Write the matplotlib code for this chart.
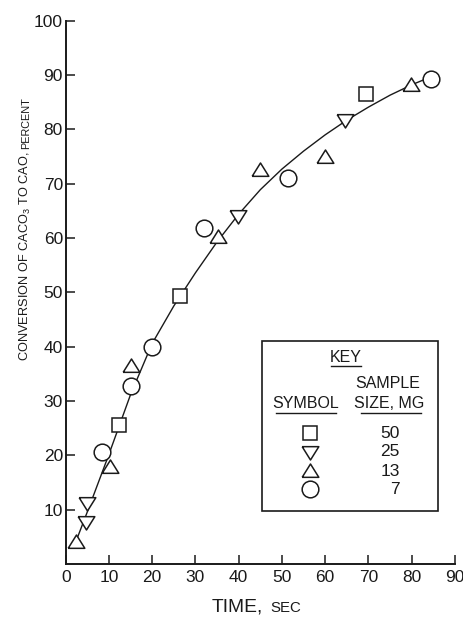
import numpy as np
import matplotlib.pyplot as plt

# data
sq_t = [26.5, 12.4, 69.5]
sq_c = [49.3, 25.5, 86.6]
dn_t = [5.0, 4.8, 39.9, 64.5]
dn_c = [11.2, 7.8, 64.1, 81.7]
up_t = [2.4, 10.2, 15.0, 35.2, 45.0, 59.9, 79.9]
up_c = [4.1, 17.8, 36.5, 60.2, 72.5, 75.0, 88.2]
ci_t = [8.5, 15.0, 19.9, 31.9, 51.4, 84.5]
ci_c = [20.6, 32.8, 40.0, 61.8, 71.0, 89.3]

# fitted curve
fit_t = [2.2, 5, 10, 15, 20, 25, 30, 35, 40, 45, 50, 55, 60, 65, 70, 75, 80, 83]
fit_c = [3.8, 9.6, 20.2, 31.2, 40.6, 47.5, 53.6, 59.3, 64.4, 68.9, 72.7, 76.0,
         79.0, 81.7, 84.1, 86.3, 88.2, 89.2]

key_sizes = ['50', '25', '13', '7']

ink = '#1a1a1a'
fs = 12.5
fam = ['Liberation Sans', 'DejaVu Sans']
plt.rcParams['font.family'] = fam
plt.rcParams['mathtext.fontset'] = 'custom'
plt.rcParams['mathtext.rm'] = 'Liberation Sans'

up_m = [(-1, -0.7), (1, -0.7), (0, 0.9), (-1, -0.7)]
dn_m = [(-1, 0.7), (1, 0.7), (0, -0.9), (-1, 0.7)]

W, H = 464, 618
fig = plt.figure(figsize=(W / 100, H / 100), dpi=100)
ax = fig.add_axes([65.7 / W, 1 - 564 / H, (455 - 65.7) / W, (564 - 20.7) / H])

ax.plot(fit_t, fit_c, color=ink, lw=1.0, zorder=1)

mk = dict(linestyle='none', mfc='white', mec=ink, mew=1.1, zorder=3, clip_on=False)
ax.plot(sq_t, sq_c, marker='s', ms=9.6, **mk)
ax.plot(dn_t, dn_c, marker=dn_m, ms=12, **mk)
ax.plot(up_t, up_c, marker=up_m, ms=12, **mk)
ax.plot(ci_t, ci_c, marker='o', ms=12, **mk)

ax.set_xlim(0, 90)
ax.set_ylim(0, 100)
ax.set_xticks(range(0, 91, 10))
ax.set_yticks(range(10, 101, 10))
ax.spines['top'].set_visible(False)
ax.spines['right'].set_visible(False)
for s in ['left', 'bottom']:
    ax.spines[s].set_linewidth(1.4)
    ax.spines[s].set_color(ink)
ax.tick_params(direction='in', length=6.5, width=1.1, colors=ink, labelsize=fs)
ax.tick_params(axis='x', pad=4)
ax.tick_params(axis='y', pad=2)


def fx(px):
    return px / W


def fy(py):
    return 1 - py / H


def fit_len(t, target, vertical=False):
    # shrink/grow a text so it spans target pixels
    r = fig.canvas.get_renderer()
    bb = t.get_window_extent(r)
    cur = bb.height if vertical else bb.width
    t.set_fontsize(t.get_fontsize() * target / cur)


# axis labels, mixed caps sizes
t1 = fig.text(fx(25), fy(361), r'CONVERSION OF CACO$_3$ TO CAO,', rotation=90,
              ha='center', va='bottom', fontsize=12, color=ink)
t2 = fig.text(fx(26), fy(97), 'PERCENT', rotation=90, ha='center', va='top',
              fontsize=9, color=ink)
t3 = fig.text(fx(263), fy(607), 'TIME,', ha='right', va='center', fontsize=12, color=ink)
t4 = fig.text(fx(270), fy(608), 'SEC', ha='left', va='center', fontsize=9.5, color=ink)
fig.canvas.draw()
fit_len(t1, 208, vertical=True)
fit_len(t2, 52, vertical=True)
fit_len(t3, 51)
fit_len(t4, 31)

# key box
box = plt.Rectangle((fx(262), fy(511)), (438 - 262) / W, (511 - 341) / H,
                    transform=fig.transFigure, fill=False, ec=ink, lw=1.2)
fig.add_artist(box)
kfs = 11.5
fig.text(fx(346), fy(357), 'KEY', ha='center', va='center', fontsize=kfs, color=ink)
fig.text(fx(388), fy(384), 'SAMPLE', ha='center', va='center', fontsize=kfs, color=ink)
fig.text(fx(306), fy(404), 'SYMBOL', ha='center', va='center', fontsize=kfs, color=ink)
fig.text(fx(389), fy(404), 'SIZE, MG', ha='center', va='center', fontsize=kfs, color=ink)
for x0, x1, y in [(331, 361, 366), (276, 336, 413), (361, 421, 413)]:
    fig.add_artist(plt.Line2D([fx(x0), fx(x1)], [fy(y), fy(y)], transform=fig.transFigure,
                              color=ink, lw=1.0))

key_markers = [('s', 9.6), (dn_m, 12), (up_m, 12), ('o', 12)]
key_y = [433, 452, 471, 489]
for (m, s), lab, y in zip(key_markers, key_sizes, key_y):
    fig.add_artist(plt.Line2D([fx(310)], [fy(y)], transform=fig.transFigure, marker=m, ms=s,
                              linestyle='none', mfc='white', mec=ink, mew=1.1))
    fig.text(fx(400), fy(y), lab, ha='right', va='center', fontsize=kfs + 1, color=ink)

fig.savefig('out.png', dpi=100, facecolor='white')
